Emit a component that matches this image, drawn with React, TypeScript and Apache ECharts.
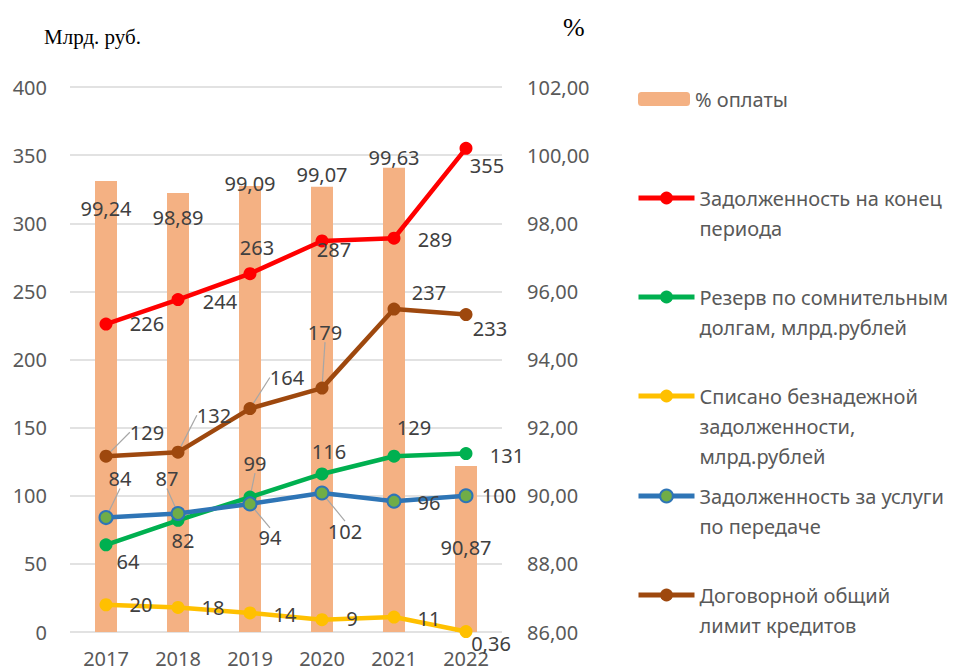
import React, { useEffect, useRef } from "react";
import * as echarts from "echarts";

const categories = ["2017", "2018", "2019", "2020", "2021", "2022"];
const paymentPct = [99.24, 98.89, 99.09, 99.07, 99.63, 90.87];
const debtEnd = [226, 244, 263, 287, 289, 355];
const reserve = [64, 82, 99, 116, 129, 131];
const writtenOff = [20, 18, 14, 9, 11, 0.36];
const transmissionDebt = [84, 87, 94, 102, 96, 100];
const creditLimit = [129, 132, 164, 179, 237, 233];

const seriesNames = {
  pct: "% оплаты",
  debtEnd: "Задолженность на конец\nпериода",
  reserve: "Резерв по сомнительным\nдолгам, млрд.рублей",
  writtenOff: "Списано безнадежной\nзадолженности,\nмлрд.рублей",
  transmission: "Задолженность за услуги\nпо передаче",
  credit: "Договорной общий\nлимит кредитов",
};

// label shifts (styling) relative to the default label position
const pctShift = [[0, 17], [0, 15], [0, -13], [0, -22], [0, -20], [0, 71]];
const debtEndShift = [[41, -1], [42, 2], [7, -26], [12, 9], [41, 1], [21, 17]];
const creditShift = [[41, -24], [36, -37], [37, -31], [3, -56], [35, -17], [24, 14]];
const creditLeader = [true, true, true, true, false, false];
const reserveShift = [[22, 17], [5, 20], [5, -34], [7, -22], [20, -29], [41, 2]];
const reserveLeader = [false, false, true, false, false, false];
const transmissionShift = [[14, -39], [-11, -35], [20, 34], [23, 38], [35, 1], [33, 0]];
const transmissionLeader = [true, true, true, true, false, false];
const writtenOffShift = [[35, 0], [35, 0], [35, 2], [30, -1], [35, 1], [25, 12]];

const FONT = "'Noto Sans', 'Open Sans', sans-serif";
const LABEL_COLOR = "#404040";
const AXIS_COLOR = "#595959";
const LEGEND_LH = 30;
const fmt = (v: number) => String(v).replace(".", ",");

function lineSeries(
  name: string,
  values: number[],
  color: string,
  shifts: number[][],
  leaders: boolean[] | null,
  itemStyle?: any
) {
  return {
    name,
    type: "line",
    yAxisIndex: 0,
    data: values.map((v, i) => ({
      value: v,
      labelLine: { show: leaders ? leaders[i] : false },
    })),
    symbol: "circle",
    symbolSize: 13,
    lineStyle: { color, width: 4.5 },
    itemStyle: itemStyle || { color },
    label: {
      show: true,
      position: "inside",
      color: LABEL_COLOR,
      fontSize: 20,
      fontFamily: FONT,
      formatter: (p: any) => fmt(p.value),
    },
    labelLine: {
      lineStyle: { color: "#A6A6A6", width: 1.2 },
    },
    labelLayout: (p: any) => ({
      dx: shifts[p.dataIndex][0],
      dy: shifts[p.dataIndex][1],
      hideOverlap: false,
    }),
    z: 3,
  };
}

function legendFor(name: string, top: number, isBar = false) {
  const lines = name.split("\n").length;
  const pad = (lines - 1) * LEGEND_LH;
  return {
    data: [{ name }],
    left: isBar ? 638 : 636,
    top,
    padding: 0,
    itemWidth: isBar ? 52 : 56,
    itemHeight: isBar ? 14 : 16,
    itemGap: 0,
    selectedMode: false,
    lineStyle: { width: 5 },
    formatter: (n: string) => {
      const body = n
        .split("\n")
        .map((l) => `{t|${l}}`)
        .join("\n");
      return pad > 0 ? `{p| }\n${body}` : body;
    },
    textStyle: {
      color: AXIS_COLOR,
      fontSize: 20,
      fontFamily: FONT,
      rich: {
        t: {
          color: AXIS_COLOR,
          fontSize: 20,
          fontFamily: FONT,
          lineHeight: LEGEND_LH,
        },
        p: { fontSize: 2, lineHeight: pad || 1, height: pad || 1 },
      },
    },
  };
}

export default function App() {
  const ref = useRef<HTMLDivElement>(null);
  useEffect(() => {
    if (!ref.current) return;
    const chart = echarts.init(ref.current, null, { renderer: "svg" });
    chart.setOption({
      animation: false,
      backgroundColor: "#ffffff",
      grid: { left: 70, right: 457, top: 87, bottom: 39 },
      graphic: [
        {
          type: "text",
          left: 44,
          top: 26,
          style: {
            text: "Млрд. руб.",
            fontFamily: "'Liberation Serif', 'Times New Roman', serif",
            fontSize: 21,
            fill: "#000000",
          },
        },
        {
          type: "text",
          left: 563,
          top: 14,
          style: {
            text: "%",
            fontFamily: "'Liberation Serif', 'Times New Roman', serif",
            fontSize: 26,
            fill: "#000000",
          },
        },
      ],
      legend: [
        legendFor(seriesNames.pct, 89, true),
        legendFor(seriesNames.debtEnd, 153),
        legendFor(seriesNames.reserve, 252),
        legendFor(seriesNames.writtenOff, 321),
        legendFor(seriesNames.transmission, 451),
        legendFor(seriesNames.credit, 550),
      ],
      xAxis: {
        type: "category",
        data: categories,
        axisLine: { show: false },
        axisTick: { show: false },
        axisLabel: {
          color: AXIS_COLOR,
          fontSize: 20,
          fontFamily: FONT,
          margin: 16,
        },
      },
      yAxis: [
        {
          type: "value",
          min: 0,
          max: 400,
          interval: 50,
          axisLine: { show: false },
          axisTick: { show: false },
          axisLabel: {
            color: AXIS_COLOR,
            fontSize: 20,
            fontFamily: FONT,
            margin: 23,
          },
          splitLine: { lineStyle: { color: "#D9D9D9", width: 1.5 } },
        },
        {
          type: "value",
          min: 86,
          max: 102,
          interval: 2,
          axisLine: { show: false },
          axisTick: { show: false },
          axisLabel: {
            color: AXIS_COLOR,
            fontSize: 20,
            fontFamily: FONT,
            margin: 25,
            formatter: (v: number) => v.toFixed(2).replace(".", ","),
          },
          splitLine: { show: false },
        },
      ],
      series: [
        {
          name: seriesNames.pct,
          type: "bar",
          yAxisIndex: 1,
          data: paymentPct,
          barWidth: 22,
          itemStyle: { color: "#F4B183" },
          label: {
            show: true,
            position: "insideTop",
            distance: 0,
            color: LABEL_COLOR,
            fontSize: 20,
            fontFamily: FONT,
            formatter: (p: any) => fmt(p.value),
          },
          labelLayout: (p: any) => ({
            dx: pctShift[p.dataIndex][0],
            dy: pctShift[p.dataIndex][1],
            hideOverlap: false,
          }),
          z: 1,
        },
        lineSeries(seriesNames.debtEnd, debtEnd, "#FF0000", debtEndShift, null),
        lineSeries(seriesNames.reserve, reserve, "#00B050", reserveShift, reserveLeader),
        lineSeries(seriesNames.writtenOff, writtenOff, "#FFC000", writtenOffShift, null),
        lineSeries(
          seriesNames.transmission,
          transmissionDebt,
          "#2E75B6",
          transmissionShift,
          transmissionLeader,
          { color: "#70AD47", borderColor: "#2E75B6", borderWidth: 2 }
        ),
        lineSeries(seriesNames.credit, creditLimit, "#9E480E", creditShift, creditLeader),
      ],
    });
    return () => chart.dispose();
  }, []);
  return (
    <div
      ref={ref}
      style={{ width: 959, height: 671, position: "absolute", left: 0, top: 0 }}
    />
  );
}
